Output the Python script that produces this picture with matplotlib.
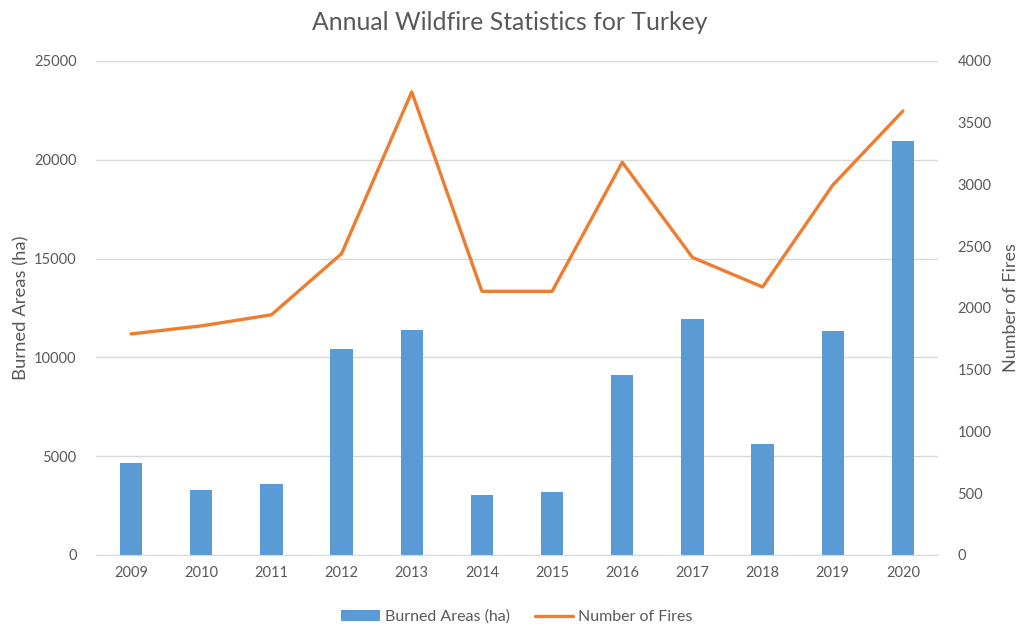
import matplotlib
matplotlib.use("Agg")
import matplotlib.pyplot as plt
import numpy as np

years = ["2009", "2010", "2011", "2012", "2013", "2014", "2015", "2016", "2017", "2018", "2019", "2020"]
burned_areas = [4650, 3300, 3600, 10450, 11400, 3050, 3200, 9100, 11950, 5600, 11350, 20950]
num_fires = [1790, 1855, 1945, 2440, 3750, 2135, 2135, 3180, 2410, 2170, 2995, 3595]

plt.rcParams['font.family'] = ['Lato', 'DejaVu Sans']
txt = '#595959'
bar_c = '#5B9BD5'
line_c = '#ED7D31'
grid_c = '#D9D9D9'

fig = plt.figure(figsize=(10.2, 6.29), dpi=100)
ax = fig.add_axes([96/1020, 1-555/629, (938-96)/1020, (555-61)/629])
x = np.arange(len(years))
ax.bar(x, burned_areas, width=0.32, color=bar_c, label='Burned Areas (ha)', zorder=2)
ax.set_xlim(-0.5, len(years)-0.5)
ax.set_ylim(0, 25000)
ax.set_yticks(np.arange(0, 25001, 5000))
ax.set_xticks(x)
ax.set_xticklabels(years)
ax.grid(axis='y', color=grid_c, linewidth=1, zorder=0)
ax.set_axisbelow(True)
for s in ['top', 'right', 'left']:
    ax.spines[s].set_visible(False)
ax.spines['bottom'].set_color(grid_c)
ax.tick_params(axis='both', length=0, colors=txt, labelsize=10.5)
ax.tick_params(axis='y', pad=14)
ax.tick_params(axis='x', pad=8)
ax.set_ylabel('Burned Areas (ha)', color=txt, fontsize=13.3, labelpad=3)

ax2 = ax.twinx()
ax2.plot(x, num_fires, color=line_c, linewidth=2.4, label='Number of Fires', solid_capstyle='round', zorder=3)
ax2.set_ylim(0, 4000)
ax2.set_yticks(np.arange(0, 4001, 500))
for s in ['top', 'right', 'left', 'bottom']:
    ax2.spines[s].set_visible(False)
ax2.tick_params(axis='y', length=0, colors=txt, labelsize=10.5, pad=14)
ax2.set_ylabel('Number of Fires', color=txt, fontsize=13, labelpad=8)

fig.text(0.5, 1-22/629, 'Annual Wildfire Statistics for Turkey', color=txt, fontsize=17.8,
         ha='center', va='center')

h1, l1 = ax.get_legend_handles_labels()
h2, l2 = ax2.get_legend_handles_labels()
fig.legend(h1 + h2, l1 + l2, loc='center', bbox_to_anchor=(517/1020, 1-617/629), ncol=2,
           frameon=False, fontsize=11.5, labelcolor=txt, handlelength=2.4, handleheight=0.6,
           columnspacing=1.6, handletextpad=0.3)

fig.savefig('out.png', dpi=100)
